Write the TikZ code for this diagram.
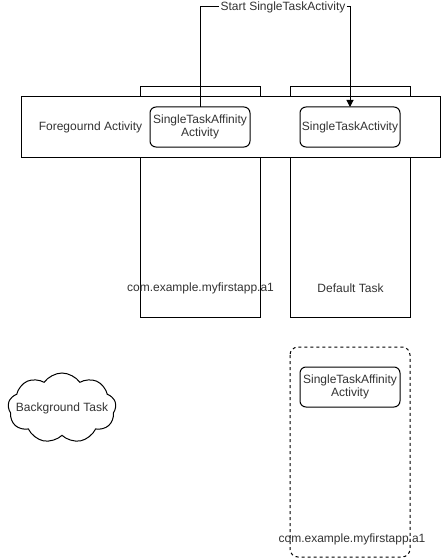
\documentclass[tikz,border=0pt]{standalone}
\usepackage{fontspec}
\setmainfont{Liberation Sans}
\usetikzlibrary{shapes.symbols,arrows.meta}
\begin{document}
\begin{tikzpicture}[x=1pt,y=-1pt,
  every node/.style={font=\fontsize{12}{14}\selectfont, text=black!80},
  line/.style={draw=black, line width=1pt},
  taskbox/.style={line, fill=white},
  actbox/.style={line, fill=white, rounded corners=6pt},
  txt/.style={inner sep=0pt, align=center}]
\useasboundingbox (0,0) rectangle (441,559);
% task boxes
\draw[taskbox] (140,87) rectangle (260,317);
\draw[taskbox] (290,87) rectangle (410,317);
% foreground
\draw[taskbox] (21,97) rectangle (440,157);
\node[txt] (fg) at (90.5,127) {Foregournd Activity};
\draw[actbox] (150,107) rectangle (250,147);
\node[txt] (sta) at (200,127) {SingleTaskAffinity\\[-1pt]Activity};
\coordinate (staTop) at (200,107);
\draw[actbox] (300,107) rectangle (400,147);
\node[txt] (st) at (350,127) {SingleTaskActivity};
\coordinate (stTop) at (350,107);
% labels of task boxes
\node[txt] (a1) at (200.5,288) {com.example.myfirstapp.a1};
\node[txt] (dt) at (350.5,288) {Default Task};
% arrow
\node[txt, fill=white, inner xsep=1pt, inner ysep=2pt] (lbl) at (283,7) {Start SingleTaskActivity};
\draw[line] (staTop) |- (lbl.west);
\draw[line, -{Triangle[length=7pt,width=7pt]}] (lbl.east) -| (stTop);
% background task (dashed)
\draw[line, dash pattern=on 3pt off 3pt, rounded corners=8pt] (290,347) rectangle (410,557);
\draw[actbox] (300,367) rectangle (400,407);
\node[txt] (sta2) at (350,387) {SingleTaskAffinity\\[-1pt]Activity};
\node[txt] (a12) at (352,539) {com.example.myfirstapp.a1};
% cloud
\node[cloud, cloud puffs=9, cloud puff arc=110, aspect=1.55, line, minimum width=108pt, minimum height=70pt, inner sep=0pt] (bg) at (62,408) {};
\node[txt] (bgt) at (bg.center) {Background Task};
\end{tikzpicture}
\end{document}
